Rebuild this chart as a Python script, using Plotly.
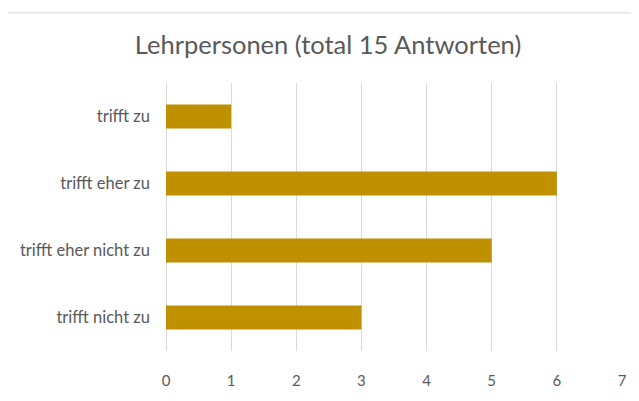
import plotly.graph_objects as go

# answers, top to bottom as in the chart
categories = ['trifft zu', 'trifft eher zu', 'trifft eher nicht zu', 'trifft nicht zu']
counts = [1, 6, 5, 3]
x_ticks = [0, 1, 2, 3, 4, 5, 6, 7]

bar_color = '#BF9000'
grid_color = '#D9D9D9'
text_color = '#595959'
font_family = 'Lato'

# the page body has an 8px margin, so the figure is drawn 8px in from the corner
W, H = 631, 393
L, R, T, B = 157, 17, 75, 39
pw, ph = W - L - R, H - T - B

fig = go.Figure()
fig.add_trace(go.Bar(
    x=counts, y=categories, orientation='h',
    marker=dict(color=bar_color, line=dict(width=0)),
    hoverinfo='x+y',
))

fig.update_layout(
    width=W, height=H,
    margin=dict(l=L, r=R, t=T, b=B),
    paper_bgcolor='white', plot_bgcolor='white',
    bargap=0.64,
    showlegend=False,
    font=dict(family=font_family, color=text_color, size=15),
    title=dict(text='Lehrpersonen (total 15 Antworten)',
               x=320 / W, xref='container', xanchor='center',
               y=1 - 37 / H, yref='container', yanchor='middle',
               font=dict(family=font_family, size=25.5, color=text_color)),
)
fig.update_xaxes(range=[0, 7], tickvals=x_ticks, showgrid=True,
                 gridcolor=grid_color, gridwidth=1, zeroline=True,
                 zerolinecolor=grid_color, zerolinewidth=1,
                 showline=False, ticks='', ticklabelstandoff=19,
                 tickfont=dict(size=15, color=text_color))
fig.update_yaxes(autorange='reversed', showgrid=False, zeroline=False,
                 showline=False, ticks='', ticklabelstandoff=15,
                 tickfont=dict(size=16.5, color=text_color))

# chart-area border (cut off at the right and bottom like the original)
fig.add_shape(type='rect', xref='paper', yref='paper',
              x0=(-3 - L) / pw, x1=(645 - L) / pw,
              y0=(ph + T - 420) / ph, y1=(ph + T - 2) / ph,
              line=dict(color=grid_color, width=1), fillcolor='rgba(0,0,0,0)',
              layer='below')

fig.write_html('out.html')
